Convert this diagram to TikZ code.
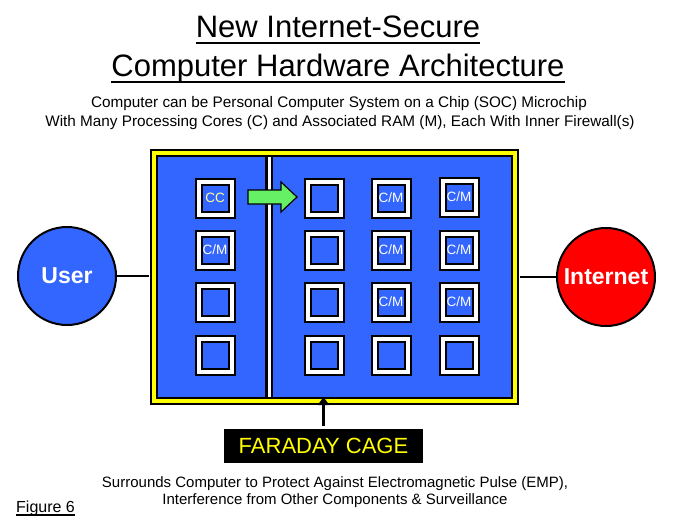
\documentclass[tikz,border=0pt]{standalone}
\usepackage{fontspec}
\setmainfont{Liberation Sans}
\usetikzlibrary{arrows.meta}
\definecolor{chipblue}{RGB}{51,102,255}
\definecolor{cagey}{RGB}{255,255,0}
\definecolor{arrowgreen}{RGB}{102,240,102}
\definecolor{ccyellow}{RGB}{255,255,150}
\begin{document}
\begin{tikzpicture}[x=1pt,y=-1pt,
  core/.style={draw=black, line width=2pt, double=white, double distance=4pt,
    fill=chipblue, minimum size=33pt, inner sep=0pt,
    font=\fontsize{13.5}{13.5}\selectfont, text=white},
  endpoint/.style={circle, draw=black, line width=2pt, minimum size=98pt, inner sep=0pt,
    text=white, font=\bfseries\fontsize{23}{23}\selectfont},
  link/.style={line width=2pt},
  txt/.style={anchor=base, inner sep=0pt},
  uline/.style={line width=1.8pt}
]
\useasboundingbox (0,0) rectangle (679,525);

% title
\node[txt, font=\fontsize{31}{31}\selectfont] (t1) at (338,37) {New Internet-Secure};
\node[txt, font=\fontsize{31}{31}\selectfont] (t2) at (338,76) {Computer Hardware Architecture};
\draw[uline] ([yshift=-6pt]t1.base west) -- ([yshift=-6pt]t1.base east);
\draw[uline] ([yshift=-6pt]t2.base west) -- ([yshift=-6pt]t2.base east);

% subtitle
\node[txt, font=\fontsize{15.3}{15.3}\selectfont] (s1) at (339,107) {Computer can be Personal Computer System on a Chip (SOC) Microchip};
\node[txt, font=\fontsize{15.3}{15.3}\selectfont] (s2) at (340,126) {With Many Processing Cores (C) and Associated RAM (M), Each With Inner Firewall(s)};

% cage
\node[draw=black, line width=2pt, double=cagey, double distance=4.5pt, fill=chipblue,
  minimum width=361pt, minimum height=248pt, inner sep=0pt] (cage) at (334.5,277) {};
\draw[line width=2.5pt, double=white, double distance=3pt] (269,157) -- (269,397);

% cores
\node[core] (a1) at (215,198) {\textcolor{ccyellow}{CC}};
\node[core] (a2) at (215,250) {C/M};
\node[core] (a3) at (215,302) {};
\node[core] (a4) at (215,355) {};
\node[core] (b1) at (324,198) {};
\node[core] (b2) at (324,250) {};
\node[core] (b3) at (324,302) {};
\node[core] (b4) at (324,355) {};
\node[core] (c1) at (391,198) {C/M};
\node[core] (c2) at (391,250) {C/M};
\node[core] (c3) at (391,302) {C/M};
\node[core] (c4) at (391,355) {};
\node[core] (d1) at (459,197) {C/M};
\node[core] (d2) at (459,250) {C/M};
\node[core] (d3) at (459,302) {C/M};
\node[core] (d4) at (459,355) {};

% green arrow
\draw[line width=1.2pt, fill=arrowgreen, line join=miter]
  (248,190) -- (281,190) -- (281,182) -- (297,197) -- (281,212) -- (281,204) -- (248,204) -- cycle;

% user / internet
\node[endpoint, fill=chipblue] (user) at (67,276) {User};
\node[endpoint, fill=red] (net) at (606,277) {Internet};
\draw[link, shorten >=4pt] (user.east) -- (user.east -| cage.west);
\draw[link, shorten <=4pt] (net.west -| cage.east) -- (net.west);

% faraday
\node[fill=black, text=cagey, font=\fontsize{22}{22}\selectfont, minimum width=199pt,
  minimum height=34pt, inner sep=0pt] (faraday) at (323.5,446) {FARADAY CAGE};
\draw[line width=3.5pt, -{Triangle[width=11pt,length=8pt]}, shorten >=-5pt]
  ([yshift=3pt]faraday.north) -- (faraday.north |- cage.south);

% bottom text
\node[txt, font=\fontsize{15}{15}\selectfont] (b1t) at (335,487) {Surrounds Computer to Protect Against Electromagnetic Pulse (EMP),};
\node[txt, font=\fontsize{15}{15}\selectfont] (b2t) at (335,504) {Interference from Other Components \& Surveillance};

\node[txt, anchor=base west, font=\fontsize{16}{16}\selectfont] (fig) at (16,512) {Figure 6};
\draw[line width=1.2pt] ([yshift=-3pt]fig.base west) -- ([yshift=-3pt]fig.base east);
\end{tikzpicture}
\end{document}
